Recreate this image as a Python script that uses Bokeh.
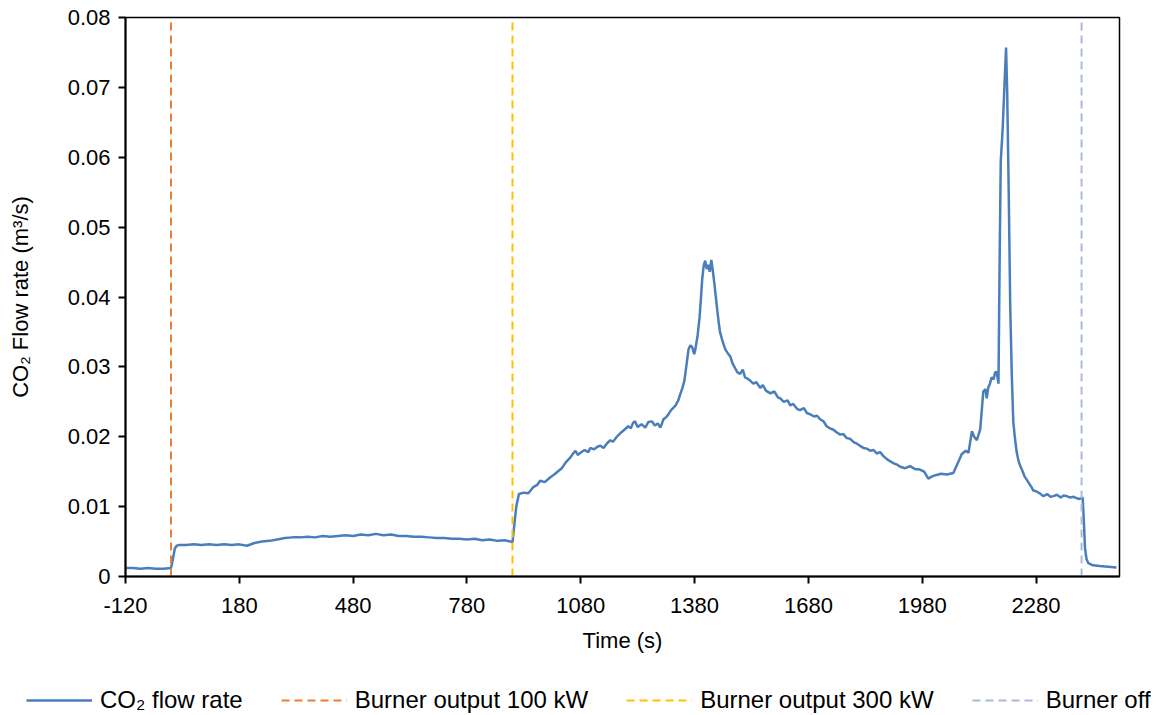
from bokeh.plotting import figure
from bokeh.models import Range1d, FixedTicker, CustomJSTickFormatter, Legend, LegendItem, Plot, Title
from bokeh.layouts import column
from bokeh.embed import file_html
from bokeh.resources import INLINE

time_s = [-120, -100, -80, -60, -40, -20, 0, 5, 10, 15, 20, 40, 60, 80, 100, 120, 140, 160, 180, 200,
          220, 240, 260, 280, 300, 320, 340, 360, 380, 400, 420, 440, 460, 480, 500, 520, 540, 560, 580, 600,
          620, 640, 660, 680, 700, 720, 740, 760, 780, 800, 820, 840, 860, 880, 895, 900,
          905, 910, 917, 930, 942, 955, 965, 973, 985, 1000, 1010, 1021, 1030, 1040, 1052, 1060, 1066, 1072, 1079,
          1090, 1100, 1105, 1115, 1125, 1132, 1140, 1150, 1158, 1165, 1175, 1184, 1195, 1205, 1212, 1218, 1223,
          1230, 1240, 1250, 1258, 1268, 1275, 1283, 1290, 1298, 1305, 1311, 1318, 1325, 1330, 1337, 1343, 1348,
          1353, 1358, 1364, 1369, 1374, 1379, 1382, 1388, 1393, 1397, 1400, 1404, 1408, 1412, 1416, 1420, 1424,
          1428, 1432, 1436, 1440, 1444, 1447, 1452, 1456, 1461, 1467, 1474, 1480, 1487, 1493, 1500, 1507, 1513,
          1520, 1527, 1535, 1543, 1553, 1560, 1568, 1580, 1590, 1600, 1606, 1615, 1625, 1632, 1640, 1650, 1658,
          1668, 1676, 1685, 1695, 1703, 1711, 1720, 1728, 1737, 1746, 1755, 1764, 1772, 1781, 1790, 1800, 1808,
          1816, 1825, 1834, 1843, 1852, 1860, 1869, 1878, 1887, 1895, 1905, 1914, 1922, 1935, 1948, 1960, 1974,
          1985, 1996, 2005, 2015, 2030, 2045, 2062, 2071, 2084, 2095, 2102, 2111, 2117, 2124, 2133, 2141, 2147,
          2150, 2154, 2158, 2163, 2168, 2172, 2176, 2181, 2184, 2187, 2192, 2196, 2201, 2204, 2208, 2212, 2216,
          2220, 2224, 2229, 2234, 2238, 2245, 2250, 2255, 2262, 2268, 2273, 2280, 2290, 2299, 2310, 2318, 2326,
          2335, 2345, 2353, 2361, 2370, 2380, 2387, 2395, 2403, 2406, 2409, 2413, 2418, 2430, 2448, 2470, 2492]

co2_flow = [0.0012, 0.0012, 0.0011, 0.0012, 0.0011, 0.0011, 0.0012, 0.0025, 0.0040, 0.0044, 0.0045, 0.0045,
            0.0046, 0.0045, 0.0046, 0.0045, 0.0046, 0.0045, 0.0046, 0.0044, 0.0048, 0.0050, 0.0051, 0.0053,
            0.0055, 0.0056, 0.0056, 0.0057, 0.0056, 0.0058, 0.0057, 0.0058, 0.0059, 0.0058, 0.0060, 0.0059,
            0.0061, 0.0059, 0.0060, 0.0058, 0.0058, 0.0057, 0.0057, 0.0056, 0.0055, 0.0055, 0.0054, 0.0054,
            0.0053, 0.0054, 0.0052, 0.0053, 0.0051, 0.0052, 0.0050, 0.0049,
            0.0075, 0.0100, 0.0118, 0.0120, 0.0119, 0.0128, 0.0131, 0.0137, 0.0135, 0.0142, 0.0146, 0.0151,
            0.0155, 0.0163, 0.0170, 0.0176, 0.0180, 0.0174, 0.0177, 0.0181, 0.0178, 0.0184, 0.0182, 0.0186,
            0.0187, 0.0184, 0.0191, 0.0195, 0.0193, 0.0200, 0.0205, 0.0210, 0.0215, 0.0212, 0.0220, 0.0222,
            0.0214, 0.0218, 0.0213, 0.0221, 0.0222, 0.0216, 0.0219, 0.0213, 0.0225, 0.0228, 0.0232, 0.0238,
            0.0242, 0.0245, 0.0252, 0.0262, 0.0270, 0.0280, 0.0300, 0.0325, 0.0331, 0.0328, 0.0318, 0.0325,
            0.0345, 0.0370, 0.0400, 0.0425, 0.0445, 0.0452, 0.0440, 0.0446, 0.0436, 0.0453, 0.0438, 0.0420,
            0.0400, 0.0380, 0.0362, 0.0350, 0.0340, 0.0333, 0.0325, 0.0320, 0.0315, 0.0305, 0.0298, 0.0292,
            0.0290, 0.0296, 0.0285, 0.0283, 0.0280, 0.0276, 0.0278, 0.0270, 0.0274, 0.0266, 0.0262, 0.0265,
            0.0256, 0.0255, 0.0250, 0.0252, 0.0245, 0.0247, 0.0240, 0.0238, 0.0241, 0.0234, 0.0232, 0.0229,
            0.0230, 0.0225, 0.0222, 0.0215, 0.0212, 0.0210, 0.0206, 0.0203, 0.0204, 0.0198, 0.0197, 0.0192,
            0.0190, 0.0187, 0.0184, 0.0183, 0.0180, 0.0181, 0.0176, 0.0178, 0.0172, 0.0168, 0.0165, 0.0162,
            0.0160, 0.0157, 0.0155, 0.0158, 0.0154, 0.0153, 0.0150, 0.0140, 0.0143, 0.0145, 0.0147, 0.0146,
            0.0148, 0.0159, 0.0175, 0.0180, 0.0177, 0.0208, 0.0200, 0.0195, 0.0211, 0.0265, 0.0268, 0.0255,
            0.0270, 0.0275, 0.0285, 0.0282, 0.0292, 0.0293, 0.0276, 0.0450, 0.0594, 0.0640, 0.0693, 0.0757,
            0.0693, 0.0550, 0.0386, 0.0290, 0.0222, 0.0200, 0.0178, 0.0165, 0.0159, 0.0150, 0.0143, 0.0139,
            0.0133, 0.0128, 0.0123, 0.0122, 0.0119, 0.0115, 0.0118, 0.0114, 0.0115, 0.0117, 0.0113, 0.0116,
            0.0115, 0.0113, 0.0114, 0.0112, 0.0111, 0.0113, 0.0080, 0.0041, 0.0025, 0.0019, 0.0016, 0.0015,
            0.0014, 0.0013]

event_times = [0, 900, 2400]
event_labels = ["Burner output 100 kW", "Burner output 300 kW", "Burner off"]
event_colors = ["#ED7D31", "#FFC000", "#A9B9DE"]
series_label = "CO\u2082 flow rate"
series_color = "#4A7EBB"

x_ticks = [-120, 180, 480, 780, 1080, 1380, 1680, 1980, 2280]
y_ticks = [0, 0.01, 0.02, 0.03, 0.04, 0.05, 0.06, 0.07, 0.08]

FONT = "Liberation Sans"
FS = "22px"
LEG_FS = "24px"

HAS_FRAME_ALIGN = "frame_align" in Plot.properties()


def draw_series(fig):
    rs = [fig.line(time_s, co2_flow, line_color=series_color, line_width=2.5)]
    for t, col in zip(event_times, event_colors):
        rs.append(fig.line([t, t], [0, 0.08], line_color=col, line_width=2, line_dash="8 5"))
    return rs


def make_legend(rs, **kw):
    labels = [series_label] + event_labels
    items = [LegendItem(label=lab, renderers=[r]) for lab, r in zip(labels, rs)]
    return Legend(items=items, orientation="horizontal",
                  glyph_width=66, glyph_height=24, label_height=24, label_standoff=8, spacing=38,
                  padding=0, border_line_alpha=0, background_fill_alpha=0,
                  label_text_font=FONT, label_text_font_size=LEG_FS, label_text_color="black", **kw)


main_h = 665 if HAS_FRAME_ALIGN else 715
p = figure(width=1151, height=main_h, output_backend="svg", toolbar_location=None,
           x_range=Range1d(-120, 2500), y_range=Range1d(0, 0.08),
           min_border_left=125, min_border_right=32, min_border_top=17,
           min_border_bottom=main_h - 17 - 559)

p.xgrid.visible = False
p.ygrid.visible = False
p.outline_line_color = "black"
p.outline_line_width = 1.5
p.background_fill_color = "white"
p.border_fill_color = "white"

for ax in (p.xaxis[0], p.yaxis[0]):
    ax.axis_line_color = "black"
    ax.axis_line_width = 2
    ax.major_tick_line_color = "black"
    ax.major_tick_line_width = 2
    ax.major_tick_out = 7
    ax.major_tick_in = 0
    ax.minor_tick_line_color = None
    ax.major_label_text_font = FONT
    ax.major_label_text_font_size = FS
    ax.major_label_text_color = "black"
    ax.axis_label_text_font = FONT
    ax.axis_label_text_font_size = FS
    ax.axis_label_text_font_style = "normal"
    ax.axis_label_text_color = "black"

p.xaxis.ticker = FixedTicker(ticks=x_ticks)
p.yaxis.ticker = FixedTicker(ticks=y_ticks)
p.xaxis.formatter = CustomJSTickFormatter(code="return tick.toFixed(0);")
p.yaxis.formatter = CustomJSTickFormatter(code="return tick === 0 ? '0' : tick.toFixed(2);")
p.xaxis.axis_label = "Time (s)"
p.yaxis.axis_label = "CO\u2082 Flow rate (m\u00b3/s)"
p.xaxis.major_label_standoff = 14
p.xaxis.axis_label_standoff = 12
p.yaxis.major_label_standoff = 8
p.yaxis.axis_label_standoff = 32

main_rs = draw_series(p)

if HAS_FRAME_ALIGN:
    p.frame_align = False
    # legend strip below the chart (same series drawn out of view; only the legend shows)
    lg = figure(width=1151, height=50, output_backend="svg", toolbar_location=None,
                x_axis_type=None, y_axis_type=None,
                min_border_left=0, min_border_right=0, min_border_top=0, min_border_bottom=0,
                x_range=Range1d(-120, 2500), y_range=Range1d(1, 2))
    lg.frame_align = False
    lg.outline_line_color = None
    lg.xgrid.visible = False
    lg.ygrid.visible = False
    lg.background_fill_color = "white"
    lg.border_fill_color = "white"
    lg_rs = draw_series(lg)
    lg.add_layout(make_legend(lg_rs, location=(26, 1), margin=0), "center")
    layout = column(p, lg, spacing=0)
else:
    p.add_layout(Title(text=" ", text_font_size="18px", standoff=10), "below")
    p.add_layout(make_legend(main_rs, location="center", margin=0), "below")
    layout = p

open("out.html", "w").write(file_html(layout, INLINE))
